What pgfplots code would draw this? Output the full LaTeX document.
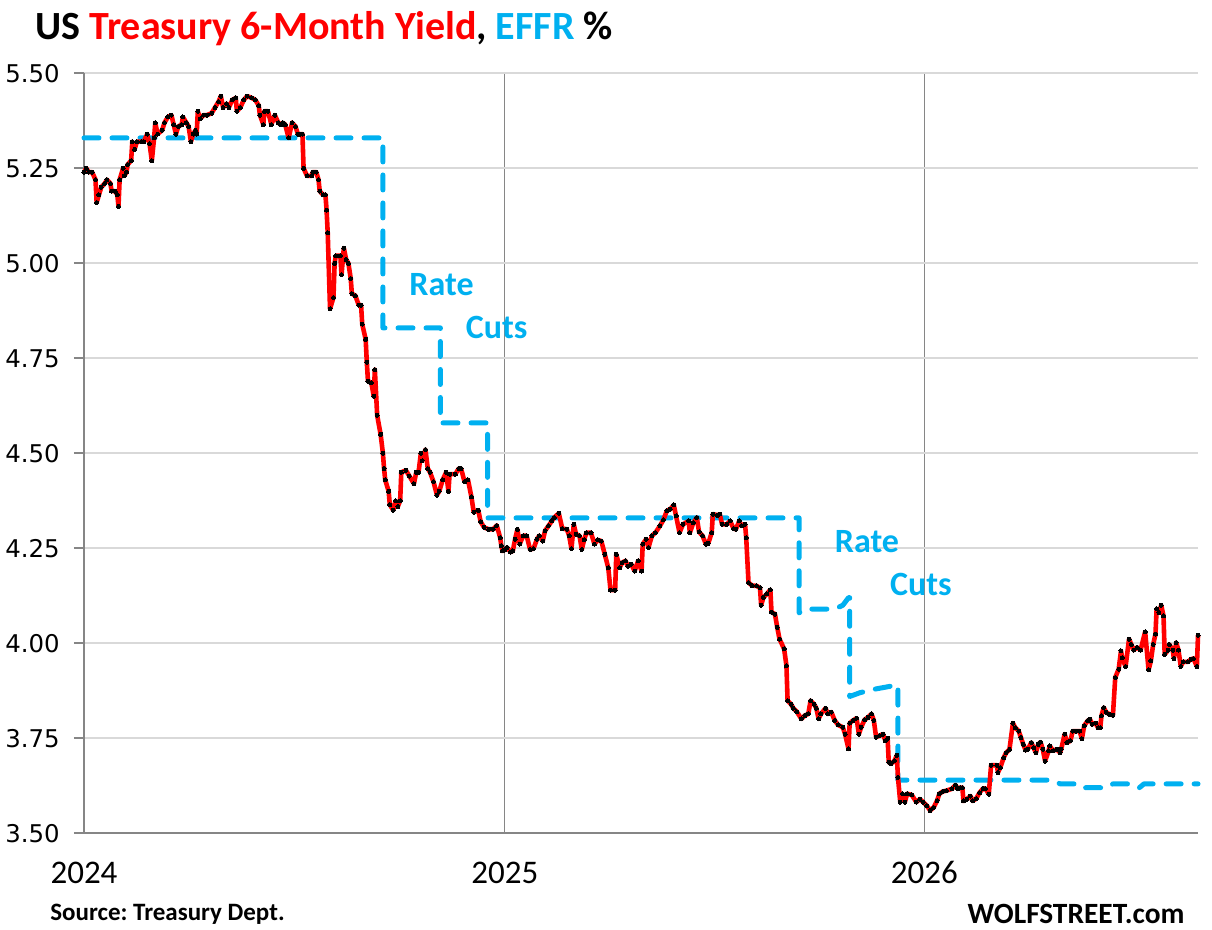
\documentclass[border=0pt]{standalone}
\usepackage{pgfplots}
\pgfplotsset{compat=1.18}
\usepackage{fontspec}
\setmainfont{Carlito}
\newfontfamily\dejavu{DejaVu Sans}
\definecolor{effr}{HTML}{00B0F0}
\definecolor{tyred}{HTML}{FF0000}
\definecolor{gridc}{HTML}{D9D9D9}
\definecolor{axc}{HTML}{868686}
\begin{document}
\frenchspacing
\begin{tikzpicture}
\useasboundingbox (0,0) rectangle (606pt,465pt);
\begin{axis}[
  at={(42pt,48.35pt)}, anchor=south west,
  scale only axis, width=557pt, height=380pt,
  xmin=0, xmax=969, ymin=3.5, ymax=5.5,
  clip=false,
  axis x line*=bottom, axis y line*=left,
  axis line style={axc, line width=1pt, -},
  xtick={0,366,731}, xticklabels={2024,2025,2026},
  ytick={3.5,3.75,4,4.25,4.5,4.75,5,5.25,5.5},
  /pgf/number format/assume math mode=true,
  yticklabel={\pgfmathprintnumber[fixed,fixed zerofill,precision=2]{\tick}},
  yticklabel style={font=\dejavu\fontsize{12.2}{14}\selectfont, inner sep=0pt, xshift=-7pt},
  xticklabel style={font=\fontsize{16.5}{18}\selectfont, inner sep=0pt, yshift=-9pt},
  x tick style={draw=none},
  y tick style={axc, line width=1pt},
  tick align=outside, major tick length=5pt,
  ymajorgrids, xmajorgrids,
  y grid style={gridc, line width=1pt},
  x grid style={axc, line width=0.6pt},
]
% EFFR
\addplot[effr, line width=2.5pt, line cap=round, line join=round, dash pattern=on 7.5pt off 6.5pt] coordinates {
(0,5.33) (260,5.33) (260,4.83) (310,4.83) (310,4.58) (351,4.58) (351,4.33) (622,4.33)
(622,4.08) (627,4.09) (653,4.09) (660,4.10) (665,4.12) (666,4.12) (666,3.86) (675,3.87)
(689,3.88) (707,3.89) (708,3.89) (708,3.64) (843,3.64) (849,3.63) (866,3.63) (870,3.62)
(890,3.62) (895,3.63) (912,3.63) (918,3.62) (922,3.63) (969,3.63)
};
% 6-month yield
\addplot[tyred, line width=2.3pt, line join=round, mark=*, mark size=1pt, mark options={black, draw=black, fill=black, line width=0pt}] coordinates {
(0,5.24) (2,5.25) (4,5.24) (7,5.24) (10,5.22) (11,5.16) (13,5.18) (15,5.20) (18,5.21) (20,5.22)
(23,5.21) (24,5.19) (27,5.19) (29,5.18) (30,5.15) (31,5.22) (34,5.25) (35,5.23) (37,5.24) (38,5.26)
(41,5.27) (42,5.32) (44,5.30) (46,5.32) (50,5.32) (52,5.32) (55,5.34) (57,5.315) (59,5.27) (61,5.33)
(62,5.37) (64,5.34) (68,5.35) (70,5.37) (73,5.385) (76,5.39) (78,5.365) (80,5.34) (82,5.36) (85,5.365)
(86,5.385) (89,5.37) (91,5.36) (93,5.32) (95,5.34) (97,5.35) (98,5.34) (99,5.40) (101,5.38) (104,5.39)
(107,5.39) (111,5.395) (114,5.41) (117,5.425) (119,5.44) (121,5.41) (124,5.42) (126,5.41) (129,5.43) (132,5.435)
(133,5.40) (136,5.41) (139,5.43) (142,5.44) (146,5.435) (149,5.43) (152,5.415) (153,5.39) (156,5.365) (157,5.40)
(160,5.40) (163,5.365) (166,5.39) (169,5.37) (171,5.365) (173,5.37) (175,5.365) (178,5.33) (181,5.37) (184,5.36)
(186,5.34) (188,5.34) (190,5.34) (191,5.25) (194,5.23) (198,5.23) (199,5.24) (202,5.24) (204,5.22) (205,5.19)
(208,5.18) (210,5.18) (211,5.14) (212,5.08) (214,4.88) (217,4.91) (218,5.00) (219,5.02) (223,5.02) (224,4.97)
(226,5.04) (228,5.01) (230,5.00) (232,4.96) (233,4.92) (236,4.915) (239,4.89) (241,4.89) (242,4.84) (245,4.80)
(246,4.74) (247,4.69) (250,4.685) (252,4.65) (253,4.72) (255,4.60) (258,4.55) (260,4.50) (261,4.46) (262,4.43)
(265,4.40) (266,4.365) (269,4.35) (271,4.375) (273,4.36) (275,4.375) (276,4.45) (280,4.455) (283,4.44) (287,4.42)
(289,4.45) (291,4.45) (293,4.50) (294,4.48) (297,4.51) (299,4.46) (301,4.45) (304,4.425) (307,4.39) (309,4.40)
(312,4.43) (315,4.45) (317,4.40) (318,4.445) (323,4.445) (326,4.46) (328,4.46) (331,4.425) (334,4.43) (337,4.385)
(339,4.345) (343,4.35) (345,4.32) (348,4.305) (352,4.30) (356,4.30) (359,4.31) (362,4.278) (363,4.257) (364,4.243)
(366,4.246) (368,4.252) (371,4.24) (373,4.243) (375,4.274) (377,4.30) (379,4.261) (382,4.283) (385,4.283) (388,4.247)
(391,4.249) (394,4.274) (396,4.283) (399,4.269) (401,4.296) (404,4.309) (407,4.322) (409,4.331) (413,4.342) (416,4.302)
(420,4.30) (422,4.283) (424,4.249) (426,4.313) (428,4.287) (431,4.283) (433,4.247) (435,4.272) (437,4.291) (441,4.291)
(444,4.261) (447,4.272) (450,4.269) (453,4.234) (456,4.199) (458,4.14) (462,4.14) (463,4.234) (466,4.199) (468,4.212)
(471,4.217) (473,4.203) (476,4.208) (479,4.19) (482,4.217) (485,4.19) (486,4.261) (489,4.274) (491,4.252) (494,4.283)
(497,4.291) (501,4.309) (504,4.325) (507,4.349) (510,4.353) (513,4.364) (515,4.335) (518,4.291) (521,4.313) (526,4.322)
(527,4.291) (530,4.317) (533,4.331) (535,4.293) (538,4.283) (541,4.261) (543,4.263) (546,4.291) (547,4.34) (551,4.337)
(553,4.34) (555,4.313) (559,4.313) (562,4.322) (565,4.302) (567,4.30) (570,4.322) (572,4.309) (575,4.313) (576,4.278)
(578,4.16) (581,4.152) (585,4.151) (588,4.146) (589,4.10) (591,4.121) (594,4.13) (597,4.141) (598,4.082) (601,4.077)
(603,4.042) (605,4.011) (609,3.985) (611,3.941) (612,3.849) (615,3.84) (617,3.829) (620,3.82) (624,3.801) (627,3.81)
(630,3.814) (632,3.849) (635,3.84) (637,3.829) (639,3.801) (641,3.814) (645,3.829) (647,3.814) (650,3.819) (653,3.797)
(656,3.785) (660,3.779) (662,3.761) (665,3.722) (666,3.79) (669,3.797) (672,3.803) (674,3.761) (676,3.779) (679,3.799)
(682,3.805) (685,3.814) (687,3.797) (689,3.753) (692,3.757) (695,3.761) (697,3.744) (699,3.75) (700,3.687) (702,3.683)
(705,3.691) (707,3.705) (708,3.647) (710,3.582) (712,3.604) (714,3.582) (716,3.604) (720,3.601) (724,3.582) (727,3.59)
(730,3.582) (733,3.573) (736,3.56) (739,3.568) (742,3.586) (744,3.604) (747,3.61) (750,3.612) (755,3.617) (758,3.627)
(760,3.617) (762,3.62) (764,3.62) (765,3.585) (768,3.59) (771,3.598) (773,3.585) (776,3.591) (779,3.607) (782,3.618)
(784,3.618) (787,3.603) (789,3.679) (794,3.679) (795,3.66) (797,3.673) (800,3.699) (802,3.712) (805,3.721) (808,3.79)
(810,3.778) (813,3.769) (815,3.752) (817,3.734) (819,3.719) (821,3.721) (824,3.739) (826,3.725) (828,3.712) (830,3.734)
(832,3.74) (834,3.721) (836,3.69) (839,3.717) (840,3.73) (843,3.717) (846,3.721) (849,3.712) (850,3.721) (853,3.761)
(855,3.739) (858,3.743) (860,3.769) (863,3.769) (866,3.769) (868,3.749) (870,3.783) (873,3.796) (875,3.80) (877,3.787)
(880,3.79) (882,3.778) (884,3.778) (885,3.809) (887,3.831) (889,3.819) (892,3.813) (895,3.811) (897,3.91) (900,3.932)
(902,3.98) (903,3.962) (906,3.939) (909,4.011) (911,3.997) (913,3.982) (916,3.989) (919,3.982) (923,4.03) (926,3.93)
(928,3.954) (930,3.997) (932,4.024) (933,4.091) (935,4.081) (937,4.10) (939,4.072) (940,3.971) (943,3.982) (944,3.997)
(947,3.982) (948,3.96) (950,4.002) (952,3.982) (954,3.939) (956,3.951) (960,3.951) (963,3.958) (965,3.96) (968,3.939)
(969,4.021)
};
\node[effr, font=\bfseries\fontsize{17}{20}\selectfont] at (axis cs:311,4.944) {Rate};
\node[effr, font=\bfseries\fontsize{17}{20}\selectfont] at (axis cs:359,4.830) {Cuts};
\node[effr, font=\bfseries\fontsize{17}{20}\selectfont] at (axis cs:681,4.268) {Rate};
\node[effr, font=\bfseries\fontsize{17}{20}\selectfont] at (axis cs:728,4.154) {Cuts};
\end{axis}
\node[anchor=base west, inner sep=0pt, font=\bfseries\fontsize{20}{24}\selectfont] at (17.5pt,445pt)
  {US \textcolor{tyred}{Treasury 6-Month Yield}, \textcolor{effr}{EFFR} \%};
\node[anchor=base west, inner sep=0pt, font=\bfseries\fontsize{12.5}{15}\selectfont] at (25pt,4.5pt) {Source: Treasury Dept.};
\node[anchor=base east, inner sep=0pt, font=\bfseries\fontsize{14.7}{17}\selectfont] at (592.5pt,3pt) {WOLFSTREET.com};
\end{tikzpicture}
\end{document}
